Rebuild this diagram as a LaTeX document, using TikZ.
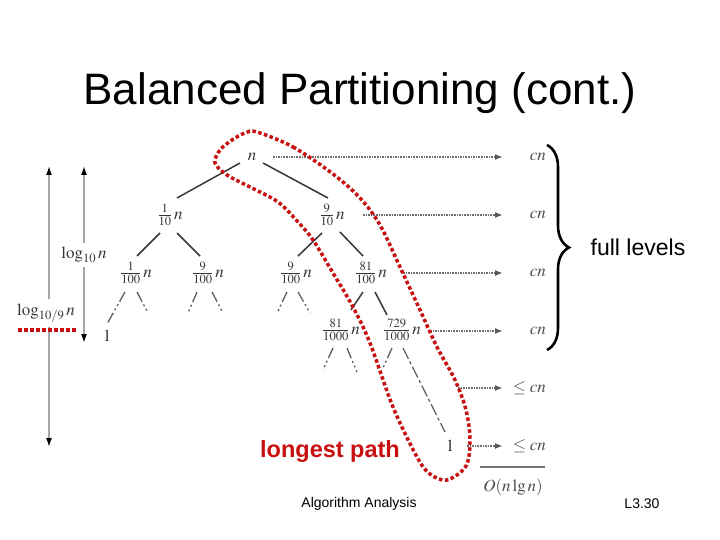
\documentclass[tikz,border=0pt]{standalone}
\usepackage{mathptmx}
\usepackage{fontspec}
\setmainfont{Liberation Sans}
\usetikzlibrary{calc,arrows.meta,decorations.pathreplacing}
\definecolor{loopred}{RGB}{200,16,16}
\definecolor{treegray}{RGB}{55,55,55}
\definecolor{arrgray}{RGB}{110,110,110}
\begin{document}
\begin{tikzpicture}[x=1pt,y=-1pt,
  lbl/.style={inner sep=1pt,text=treegray,font=\fontsize{17}{19}\selectfont},
  tree/.style={draw=treegray,line width=1.5pt},
  stub/.style={draw=treegray!80,line width=1.3pt,dash pattern=on 11pt off 3pt on 2pt off 3pt on 2pt off 3pt},
  levarrow/.style={draw=arrgray,line width=1.6pt,densely dotted,-{Latex[length=8pt,width=6pt,arrgray!80!black]}},
  vert/.style={draw=black!35,line width=1.5pt,-{Latex[length=9pt,width=6pt,black]},shorten <=2pt},
  reddots/.style={draw=loopred,line width=3.5pt,dash pattern=on 3.5pt off 2.5pt},
  sumlbl/.style={inner sep=1pt,text=black!70,font=\fontsize{17}{19}\selectfont,anchor=east}]
\useasboundingbox (0,0) rectangle (720,540);
\fill[white] (0,0) rectangle (720,540);

% title
\node (title) at (360,93) {\fontsize{44}{50}\selectfont Balanced Partitioning (cont.)};

% tree nodes
\node[lbl] (root) at (252,157) {$n$};
\node[lbl] (a) at (170,215) {$\frac{1}{10}\,n$};
\node[lbl] (b) at (332,215) {$\frac{9}{10}\,n$};
\node[lbl] (c) at (136,273) {$\frac{1}{100}\,n$};
\node[lbl] (d) at (208,273) {$\frac{9}{100}\,n$};
\node[lbl] (e) at (296,273) {$\frac{9}{100}\,n$};
\node[lbl] (f) at (371,273) {$\frac{81}{100}\,n$};
\node[lbl] (g) at (341,330) {$\frac{81}{1000}\,n$};
\node[lbl] (h) at (402,330) {$\frac{729}{1000}\,n$};
\node[lbl] (one1) at (107,336) {$1$};
\node[lbl] (one2) at (450,446) {$1$};

% tree edges
\draw[tree] ($(root)+(-12,6)$) -- ($(a)+(7,-17)$);
\draw[tree] ($(root)+(11,6)$) -- ($(b)+(-4,-17)$);
\draw[tree] ($(a)+(-10,18)$) -- ($(c)+(1,-17)$);
\draw[tree] ($(a)+(7,18)$) -- ($(d)+(-8,-17)$);
\draw[tree] ($(b)+(-10,18)$) -- ($(e)+(2,-17)$);
\draw[tree] ($(b)+(8,17)$) -- ($(f)+(-8,-17)$);
\draw[tree] ($(f)+(-8,19)$) -- ($(g)+(10,-20)$);
\draw[tree] ($(f)+(4,19)$) -- ($(h)+(-15,-15)$);

% stubs
\draw[stub] ($(c)+(-11,19)$) -- ($(one1)+(0,-12)$);
\draw[stub] ($(c)+(1,19)$) -- ($(c)+(12,40)$);
\draw[stub] ($(d)+(-11,19)$) -- ($(d)+(-20,40)$);
\draw[stub] ($(d)+(4,19)$) -- ($(d)+(15,40)$);
\draw[stub] ($(e)+(-9,19)$) -- ($(e)+(-19,40)$);
\draw[stub] ($(e)+(2,19)$) -- ($(e)+(14,40)$);
\draw[stub] ($(g)+(-8,18)$) -- ($(g)+(-18,40)$);
\draw[stub] ($(g)+(6,18)$) -- ($(g)+(16,42)$);
\draw[stub] ($(h)+(-10,18)$) -- ($(h)+(-19,38)$);
\draw[stub,dash pattern=on 12pt off 3pt on 3pt off 3pt] ($(h)+(1,18)$) -- ($(one2)+(-5,-14)$);

% level sums
\node[sumlbl] (cn1) at (547,157) {$cn$};
\node[sumlbl] (cn2) at (547,215) {$cn$};
\node[sumlbl] (cn3) at (547,273) {$cn$};
\node[sumlbl] (cn4) at (547,331) {$cn$};
\node[sumlbl] (le1) at (547,388) {$\le cn$};
\node[sumlbl] (le2) at (547,446) {$\le cn$};
\coordinate (t1) at (503,157);
\coordinate (t2) at (503,215);
\coordinate (t3) at (503,273);
\coordinate (t4) at (503,331);
\coordinate (t5) at (503,388);
\coordinate (t6) at (503,446);
\coordinate (s5) at (458,388);
\draw[levarrow] (273,157) -- (t1);
\draw[levarrow] (363,215) -- (t2);
\draw[levarrow] (403,273) -- (t3);
\draw[levarrow] (430,331) -- (t4);
\draw[levarrow] (s5) -- (t5);
\draw[levarrow] (467,446) -- (t6);
\coordinate (sumL) at (480,467);
\coordinate (sumR) at (545,467);
\draw[black!55,line width=1.3pt] (sumL) -- (sumR);
\node[inner sep=1pt,text=black!70,font=\fontsize{17}{19}\selectfont] (total) at (513,487) {$O(n\lg n)$};

% left height arrows
\node[lbl,fill=white,inner sep=2pt] (lA) at (46,313) {$\log_{10/9} n$};
\node[lbl,fill=white,inner sep=2pt] (lB) at (84,255) {$\log_{10} n$};
\coordinate (LAtop) at (49,166);
\coordinate (LAbot) at (49,447);
\coordinate (LBtop) at (84,166);
\coordinate (LBbot) at (84,343);
\draw[vert] (lA.north -| LAtop) -- (LAtop);
\draw[vert] (lA.south -| LAbot) -- (LAbot);
\draw[vert] (lB.north -| LBtop) -- (LBtop);
\draw[vert] (lB.south -| LBbot) -- (LBbot);
\coordinate (rdL) at (18,330);
\coordinate (rdR) at (76,330);
\draw[reddots] (rdL) -- (rdR);

% brace
\draw[decorate,decoration={brace,amplitude=22pt},line width=2.6pt] (547,145) -- (547,350)
  node[midway,xshift=91pt,inner sep=0pt] (full) {\fontsize{23}{26}\selectfont full levels};

% longest path loop
\draw[reddots] plot[smooth cycle,tension=0.55] coordinates {
 (257,132) (293,147) (333,174) (360,198) (380,225) (400,267) (420,310) (437,347)
 (455,380) (466,410) (470,440) (466,466) (447,480) (430,474) (417,457) (393,407)
 (370,343) (353,307) (333,273) (313,240) (298,222) (278,202) (250,187) (227,175)
 (215,163) (220,150) (232,140) (245,133)};
\node[text=loopred,font=\bfseries\fontsize{23.5}{26}\selectfont] (lp) at (330,451) {longest path};

% footer
\node[font=\fontsize{14}{16}\selectfont] (foot1) at (359,504) {Algorithm Analysis};
\node[font=\fontsize{14}{16}\selectfont] (foot2) at (642,504) {L3.30};
\end{tikzpicture}
\end{document}
